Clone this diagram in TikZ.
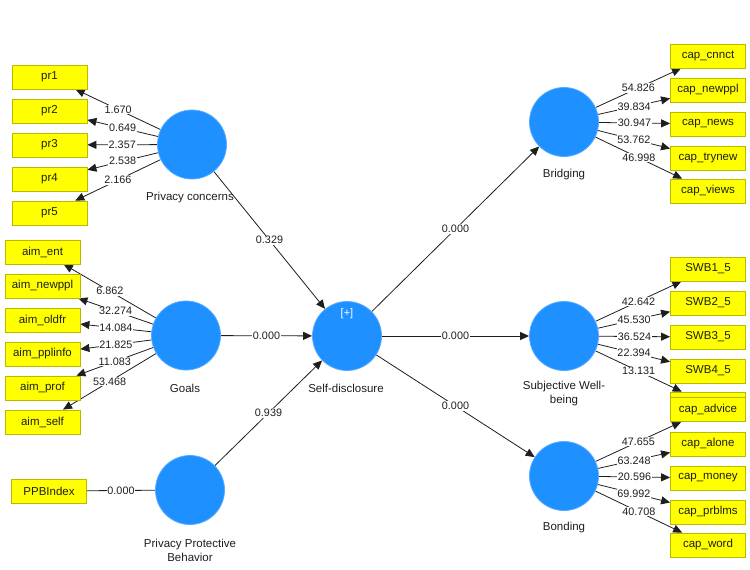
\documentclass[tikz,border=0pt]{standalone}
\usepackage{fontspec}
\setmainfont{Liberation Sans}
\usetikzlibrary{arrows.meta}
\definecolor{lvblue}{RGB}{30,144,255}
\definecolor{indyellow}{RGB}{255,255,0}
\definecolor{indborder}{RGB}{185,185,0}
\definecolor{ink}{RGB}{30,30,30}
\pgfdeclarelayer{background}
\pgfdeclarelayer{lines}
\pgfsetlayers{background,lines,main}
\begin{document}
\begin{tikzpicture}[x=1pt,y=-1pt,
  latent/.style={circle,fill=lvblue,draw=lvblue!75!white,line width=0.8pt,minimum size=69pt,inner sep=0pt},
  ind/.style={rectangle,fill=indyellow,draw=indborder,line width=0.8pt,minimum width=75pt,minimum height=24pt,inner sep=0pt,text=ink,font=\fontsize{11.5}{13}\selectfont},
  lvlabel/.style={text=ink,align=center,font=\fontsize{11.5}{14}\selectfont},
  wt/.style={fill=white,inner sep=0.8pt,text=ink,font=\fontsize{10.8}{12}\selectfont},
  conn/.style={draw=ink,line width=0.8pt,-{Triangle[length=9pt,width=8pt]}},
  plainconn/.style={draw=ink,line width=0.8pt}
]
\begin{pgfonlayer}{background}
\fill[white] (0,0) rectangle (750,570);
\end{pgfonlayer}
\useasboundingbox (0,0) rectangle (750,570);

% latent variables
\node[latent] (pc) at (192,144.5) {};
\node[latent] (goals) at (186,335.5) {};
\node[latent] (ppb) at (190,490) {};
\node[latent] (sd) at (347,336) {};
\node[latent] (bri) at (564,122) {};
\node[latent] (swb) at (564,336) {};
\node[latent] (bon) at (564,476) {};
\node[text=white,font=\fontsize{11}{12}\selectfont] (plus) at (347,314) {[+]};

% latent labels
\node[lvlabel] (pcl) at (190,198) {Privacy concerns};
\node[lvlabel] (goalsl) at (185,388) {Goals};
\node[lvlabel] (ppbl) at (190,550) {Privacy Protective\\Behavior};
\node[lvlabel] (sdl) at (346,388) {Self-disclosure};
\node[lvlabel] (bril) at (564,175) {Bridging};
\node[lvlabel] (swbl) at (564,394) {Subjective Well-\\being};
\node[lvlabel] (bonl) at (564,528) {Bonding};

% indicators left
\foreach \n/\t/\y in {pr1/pr1/77, pr2/pr2/111, pr3/pr3/145, pr4/pr4/179, pr5/pr5/213}
  \node[ind] (\n) at (49.5,\y) {\t};
\foreach \n/\t/\y in {aiment/aim\_ent/252, aimnewppl/aim\_newppl/286, aimoldfr/aim\_oldfr/320,
    aimpplinfo/aim\_pplinfo/354, aimprof/aim\_prof/388, aimself/aim\_self/422}
  \node[ind] (\n) at (42.5,\y) {\t};
\node[ind] (ppbi) at (49,491) {PPBIndex};

% indicators right
\foreach \n/\t/\y in {capcnnct/cap\_cnnct/56, capnewppl/cap\_newppl/90, capnews/cap\_news/124,
    captrynew/cap\_trynew/158, capviews/cap\_views/191,
    swbone/SWB1\_5/269, swbtwo/SWB2\_5/303, swbthree/SWB3\_5/337, swbfour/SWB4\_5/371}
  \node[ind] (\n) at (708,\y) {\t};
\node[ind] (swbfive) at (708,404) {};
\foreach \n/\t/\y in {capadvice/cap\_advice/409.5, capalone/cap\_alone/444, capmoney/cap\_money/478,
    capprblms/cap\_prblms/512, capword/cap\_word/545}
  \node[ind] (\n) at (708,\y) {\t};

% loadings
\foreach \s/\t/\v in {pc/pr1/1.670, pc/pr2/0.649, pc/pr3/2.357, pc/pr4/2.538, pc/pr5/2.166,
    goals/aiment/6.862, goals/aimnewppl/32.274, goals/aimoldfr/14.084, goals/aimpplinfo/21.825,
    goals/aimprof/11.083, goals/aimself/53.468,
    bri/capcnnct/54.826, bri/capnewppl/39.834, bri/capnews/30.947, bri/captrynew/53.762, bri/capviews/46.998,
    swb/swbone/42.642, swb/swbtwo/45.530, swb/swbthree/36.524, swb/swbfour/22.394, swb/swbfive/13.131,
    bon/capadvice/47.655, bon/capalone/63.248, bon/capmoney/20.596, bon/capprblms/69.992, bon/capword/40.708,
    pc/sd/0.329, goals/sd/0.000, ppb/sd/0.939, sd/bri/0.000, sd/swb/0.000, sd/bon/0.000}
{
  \begin{pgfonlayer}{lines}
  \draw[conn] (\s) -- (\t) coordinate[midway] (m-\s-\t);
  \end{pgfonlayer}
  \node[wt] (l-\s-\t) at (m-\s-\t) {\v};
}
\begin{pgfonlayer}{lines}
\draw[plainconn] (ppbi) -- (ppb) coordinate[midway] (m-ppbi-ppb);
\end{pgfonlayer}
\node[wt] (l-ppbi-ppb) at (m-ppbi-ppb) {0.000};
\end{tikzpicture}
\end{document}
